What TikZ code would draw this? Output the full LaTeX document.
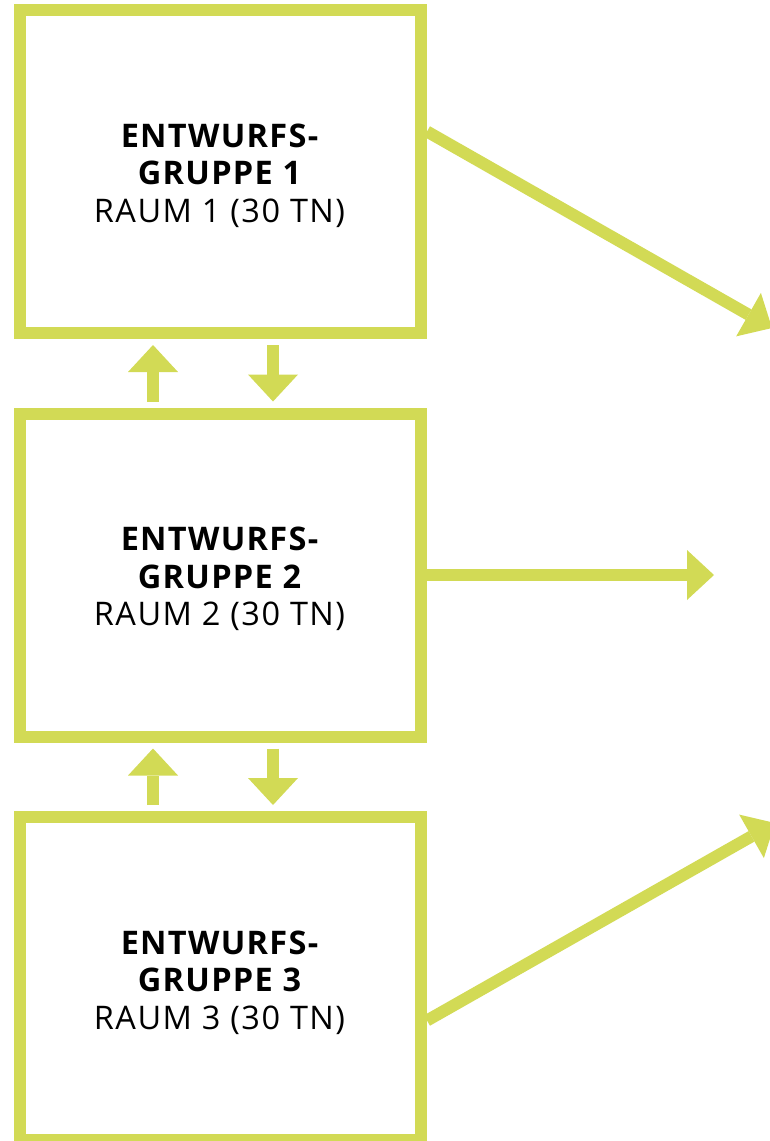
\documentclass[tikz,border=0pt]{standalone}
\usepackage{fontspec}
\setmainfont{Open Sans}
\newfontfamily\headfont[LetterSpace=4]{Open Sans Bold}
\newfontfamily\subfont[LetterSpace=4.5]{Open Sans}
\usetikzlibrary{arrows.meta}
\definecolor{lime}{HTML}{D2DA55}
\tikzset{
  box/.style={draw=lime, line width=12pt, minimum width=401pt, minimum height=323pt, inner sep=0pt},
  arr/.style={draw=lime, line width=12pt, -{Triangle[length=27pt,width=50pt,line width=0pt]}},
  small/.style={arr, shorten <=6pt, shorten >=6pt},
  label/.style={align=center, font=\fontsize{32.5}{37.5}\selectfont, text=black}
}
\begin{document}
\begin{tikzpicture}[x=1pt,y=-1pt]
\useasboundingbox (0,0) rectangle (769,1141);
\node[box] (b1) at (220.5,171.5) {};
\node[box] (b2) at (220.5,575) {};
\node[box] (b3) at (220.5,978.5) {};
\node[label] (l1) at (219.5,175.5) {{\headfont ENTWURFS-}\\{\headfont GRUPPE 1}\\{\subfont RAUM 1 (30 TN)}};
\node[label] (l2) at (219.5,579) {{\headfont ENTWURFS-}\\{\headfont GRUPPE 2}\\{\subfont RAUM 2 (30 TN)}};
\node[label] (l3) at (219.5,982.5) {{\headfont ENTWURFS-}\\{\headfont GRUPPE 3}\\{\subfont RAUM 3 (30 TN)}};
\coordinate (t1) at (772,328);
\coordinate (t2) at (714,575);
\coordinate (t3) at (775,823);
\draw[arr] ([yshift=40pt]b1.east) -- (t1);
\draw[arr] (b2.east) -- (t2);
\draw[arr] ([yshift=-42pt]b3.east) -- (t3);
\draw[small] ([xshift=-67.5pt]b2.north) -- ([xshift=-67.5pt]b1.south);
\draw[small] ([xshift=52.5pt]b1.south) -- ([xshift=52.5pt]b2.north);
\draw[small] ([xshift=-67.5pt]b3.north) -- ([xshift=-67.5pt]b2.south);
\draw[small] ([xshift=52.5pt]b2.south) -- ([xshift=52.5pt]b3.north);
\end{tikzpicture}
\end{document}
